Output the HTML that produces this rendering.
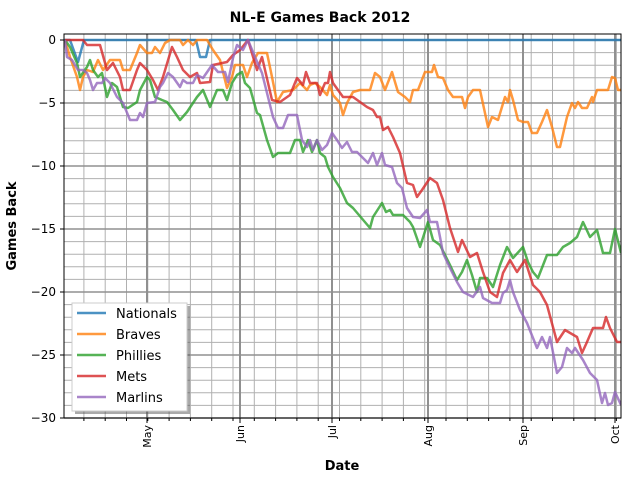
<!DOCTYPE html>
<html><head><meta charset="utf-8"><style>body{margin:0;background:#fff}svg{display:block;font-family:"DejaVu Sans","Liberation Sans",sans-serif}</style></head><body>
<svg width="640" height="480" viewBox="0 0 640 480">
<defs><clipPath id="c"><rect x="64" y="34" width="557" height="384"/></clipPath></defs>
<rect width="640" height="480" fill="#fff"/>
<g id="grid" stroke="#b0b0b0" stroke-width="1"></g>
<g clip-path="url(#c)" fill="none" stroke-width="2.5" stroke-linejoin="round">
<polyline stroke="#1f77b4" stroke-opacity="0.8" points="64,40 70,40 78,62 84,40 196,40 200,57 206,57 210,40 621,40"/>
<polyline stroke="#ff7f0e" stroke-opacity="0.8" points="65,40 70,57 77,77 80,90 83,77 87,70 93,72 98,60 103,70 110,60 120,60 123,70 130,70 137,53 140,45 147,53 152,53 155,47 160,53 165,43 170,40 180,40 183,45 188,40 193,45 197,40 207,40 213,50 220,60 227,88 232,77 235,65 243,65 247,77 252,63 258,53 267,53 272,77 277,102 283,92 293,90 300,83 307,90 310,85 315,83 320,87 327,95 330,85 333,95 340,103 343,115 347,103 353,92 360,90 370,90 375,73 380,77 385,90 392,72 398,92 405,97 410,102 413,90 418,90 425,72 432,72 434,65 438,77 443,78 448,90 453,97 462,97 465,108 468,97 473,90 480,90 488,127 492,117 498,120 505,97 508,102 510,90 513,100 518,120 523,122 528,122 532,133 537,133 542,122 547,110 552,127 557,147 560,147 567,117 572,103 575,108 578,102 582,108 587,108 592,97 593,102 597,90 608,90 612,77 615,78 618,90 621,90"/>
<polyline stroke="#2ca02c" stroke-opacity="0.8" points="65,40 70,47 77,63 80,77 87,67 90,60 93,70 98,77 102,73 107,97 112,83 117,87 123,107 128,108 137,102 140,90 147,77 150,80 155,97 162,100 167,102 173,110 180,120 187,112 197,97 203,90 210,107 217,90 223,90 227,100 232,83 237,75 242,72 245,83 250,88 257,113 260,115 267,140 273,157 278,153 290,153 295,140 300,140 303,152 308,140 312,152 317,140 320,153 325,157 328,167 333,177 340,188 347,203 353,208 370,228 373,217 382,203 386,212 390,210 393,215 403,215 410,222 413,227 420,247 428,222 433,240 440,245 450,265 457,280 462,272 467,260 472,275 477,292 480,278 487,278 493,287 500,265 507,247 513,258 523,247 528,262 533,272 538,278 547,255 557,255 563,247 570,243 577,237 583,222 590,237 597,230 603,253 610,253 615,229 621,253"/>
<polyline stroke="#d62728" stroke-opacity="0.8" points="65,40 83,40 87,45 100,45 107,70 113,63 120,77 123,90 130,90 137,70 140,63 147,70 153,80 158,90 163,77 172,47 177,57 183,70 190,77 197,73 200,83 210,82 213,65 227,62 233,55 240,50 248,40 257,70 262,57 272,100 280,102 290,95 297,78 303,85 306,72 310,83 317,83 320,95 325,83 328,83 330,72 333,83 343,97 353,97 367,107 373,110 377,117 380,117 383,130 388,127 393,137 400,153 407,183 413,185 417,197 422,190 430,178 437,183 443,200 450,228 458,252 462,240 470,257 477,253 483,272 490,292 497,297 503,273 510,260 517,272 525,260 533,285 540,292 547,305 557,342 565,330 577,337 582,353 587,342 593,328 603,328 606,317 610,328 617,342 621,342"/>
<polyline stroke="#9467bd" stroke-opacity="0.8" points="65,40 67,57 72,60 78,70 83,70 87,73 90,80 93,90 97,83 102,83 105,78 110,83 117,97 123,103 130,120 137,120 140,113 143,117 147,103 155,102 160,87 163,83 168,73 173,77 180,87 183,80 187,83 193,83 197,75 203,78 212,65 218,72 225,72 228,82 233,58 237,45 243,50 248,40 255,57 262,73 268,97 273,117 278,128 283,128 288,115 297,115 302,140 307,147 310,140 313,150 317,140 322,150 327,145 332,133 337,140 342,148 347,142 352,152 357,152 368,163 373,153 377,165 382,153 385,165 392,167 397,183 402,188 407,208 413,217 420,218 427,210 430,222 437,222 440,237 443,253 450,268 457,282 463,292 473,297 480,287 483,298 492,303 500,303 503,293 507,290 510,280 513,292 520,310 527,323 537,348 542,337 547,348 550,337 557,373 562,367 567,348 572,353 575,348 583,360 590,373 597,380 602,403 605,393 608,405 612,403 615,392 621,405"/>
</g>
<rect x="64" y="34" width="557" height="384" fill="none" stroke="#000" stroke-width="1"/>
<g id="ticks" stroke="#000" stroke-width="1"></g>
<g font-size="12" text-anchor="end" fill="#000">
<text x="56" y="44">0</text><text x="56" y="107">−5</text><text x="56" y="170">−10</text><text x="56" y="233">−15</text><text x="56" y="296">−20</text><text x="56" y="359">−25</text><text x="56" y="422">−30</text>
</g>
<g font-size="11" fill="#000" text-anchor="end">
<text transform="translate(151,425) rotate(-90)">May</text>
<text transform="translate(244,425) rotate(-90)">Jun</text>
<text transform="translate(336,425) rotate(-90)">Jul</text>
<text transform="translate(432,425) rotate(-90)">Aug</text>
<text transform="translate(527,425) rotate(-90)">Sep</text>
<text transform="translate(619,425) rotate(-90)">Oct</text>
</g>
<text x="320" y="22" font-size="14" font-weight="bold" text-anchor="middle">NL-E Games Back 2012</text>
<text x="342" y="470" font-size="13" font-weight="bold" text-anchor="middle">Date</text>
<text transform="translate(16,226) rotate(-90)" font-size="13" font-weight="bold" text-anchor="middle">Games Back</text>
<rect x="75" y="306" width="115" height="108" fill="#555" opacity="0.5"/>
<rect x="72" y="303" width="115" height="108" fill="#fff" stroke="#ccc"/>
<g stroke-width="2.5" stroke-opacity="0.8">
<line x1="77" y1="313" x2="106" y2="313" stroke="#1f77b4"/>
<line x1="77" y1="334" x2="106" y2="334" stroke="#ff7f0e"/>
<line x1="77" y1="355" x2="106" y2="355" stroke="#2ca02c"/>
<line x1="77" y1="376" x2="106" y2="376" stroke="#d62728"/>
<line x1="77" y1="397" x2="106" y2="397" stroke="#9467bd"/>
</g>
<g font-size="13" fill="#000">
<text x="116" y="318">Nationals</text><text x="116" y="339">Braves</text><text x="116" y="360">Phillies</text><text x="116" y="381">Mets</text><text x="116" y="402">Marlins</text>
</g>
<script>
var ns="http://www.w3.org/2000/svg",g=document.getElementById("grid"),t=document.getElementById("ticks");
function L(p,x1,y1,x2,y2,s,w){var l=document.createElementNS(ns,"line");l.setAttribute("x1",x1);l.setAttribute("y1",y1);l.setAttribute("x2",x2);l.setAttribute("y2",y2);if(s)l.setAttribute("stroke",s);if(w)l.setAttribute("stroke-width",w);p.appendChild(l);}
for(var v=0;v<=30;v++){var y=40+v*12.6;if(v%5)L(g,64,y,621,y);}
for(var x=446-21.3*18;x<621;x+=21.3){if(x>64){L(g,x,34,x,418);L(t,x,418,x,421);}}
for(var v=0;v<=30;v+=5){var y=40+v*12.6;L(g,64,y,621,y,"#909090",1.5);L(t,60,y,64,y);}
[147,240,332,428,523,615].forEach(function(x){L(g,x,34,x,418,"#909090",2);L(t,x,418,x,423);});
</script>
</svg>
</body></html>
